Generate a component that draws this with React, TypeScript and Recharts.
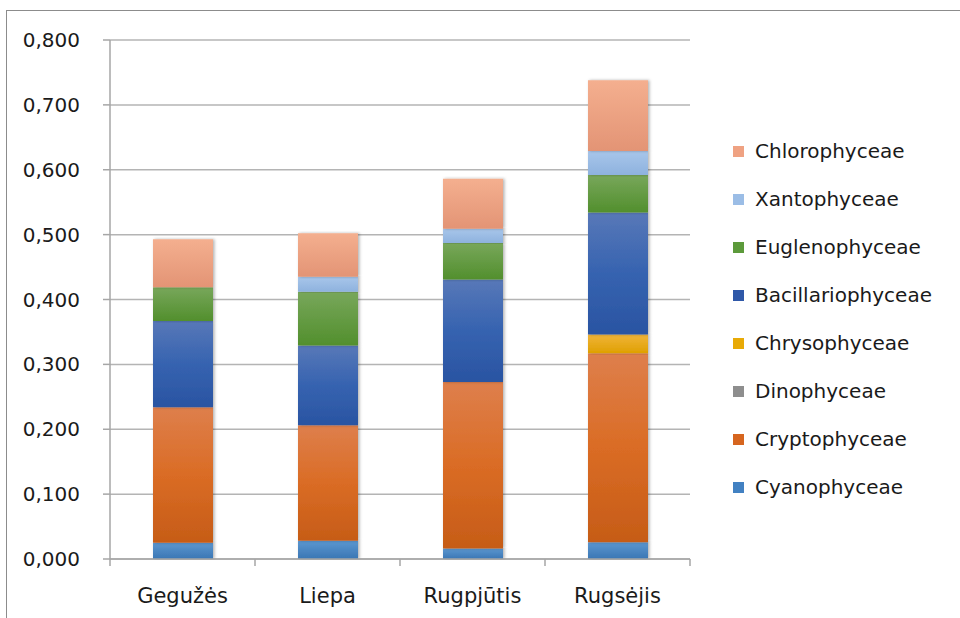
import React from 'react';
import { BarChart, Bar, XAxis, YAxis, CartesianGrid, Legend } from 'recharts';

const months = ['Gegužės', 'Liepa', 'Rugpjūtis', 'Rugsėjis'];
const cyanophyceae = [0.025, 0.028, 0.016, 0.026];
const cryptophyceae = [0.209, 0.178, 0.257, 0.291];
const dinophyceae = [0, 0, 0, 0];
const chrysophyceae = [0, 0, 0, 0.029];
const bacillariophyceae = [0.133, 0.123, 0.158, 0.188];
const euglenophyceae = [0.052, 0.083, 0.056, 0.058];
const xantophyceae = [0, 0.023, 0.022, 0.037];
const chlorophyceae = [0.074, 0.067, 0.077, 0.109];
const yTicks = [0, 0.1, 0.2, 0.3, 0.4, 0.5, 0.6, 0.7, 0.8];

const series = [
  { key: 'cyano', name: 'Cyanophyceae', values: cyanophyceae, top: '#5C97D0', bottom: '#3A76B4', swatch: '#4281C2' },
  { key: 'crypto', name: 'Cryptophyceae', values: cryptophyceae, top: '#DE7F4C', mid: '#DA6C25', bottom: '#C65C17', swatch: '#D6651F' },
  { key: 'dino', name: 'Dinophyceae', values: dinophyceae, top: '#A0A0A0', bottom: '#858585', swatch: '#8E8E8E' },
  { key: 'chryso', name: 'Chrysophyceae', values: chrysophyceae, top: '#F0B43A', bottom: '#DFA000', swatch: '#E8AA06' },
  { key: 'bacill', name: 'Bacillariophyceae', values: bacillariophyceae, top: '#5878B8', mid: '#3663B0', bottom: '#2A54A2', swatch: '#2F58A8' },
  { key: 'eugleno', name: 'Euglenophyceae', values: euglenophyceae, top: '#78A75B', bottom: '#528F2D', swatch: '#5C9A3B' },
  { key: 'xanto', name: 'Xantophyceae', values: xantophyceae, top: '#A8C6EA', bottom: '#8EB2DE', swatch: '#9BBDE6' },
  { key: 'chloro', name: 'Chlorophyceae', values: chlorophyceae, top: '#F4AF8F', bottom: '#E39475', swatch: '#EFA282' },
];

const data = months.map((m, i) => {
  const row: Record<string, string | number> = { month: m };
  series.forEach((s) => {
    row[s.key] = s.values[i];
  });
  return row;
});

const FONT = '"DejaVu Sans", sans-serif';
const AXIS_COLOR = '#a6a6a6';
const TICK_SIZE = 7;
const TICK_MARGIN = 22;

const CategoryTick = (props: any) => {
  const { x, y, payload, index, visibleTicksCount } = props;
  const half = payload && typeof payload.offset === 'number' ? payload.offset : 0;
  const y0 = y - TICK_SIZE - TICK_MARGIN;
  return (
    <g>
      <line x1={x - half} x2={x - half} y1={y0} y2={y0 + TICK_SIZE} stroke={AXIS_COLOR} strokeWidth={1.5} />
      {index === visibleTicksCount - 1 ? (
        <line x1={x + half} x2={x + half} y1={y0} y2={y0 + TICK_SIZE} stroke={AXIS_COLOR} strokeWidth={1.5} />
      ) : null}
      <text x={x} y={y} dy="0.71em" textAnchor="middle" fontFamily={FONT} fontSize={21} fill="#1a1a1a">
        {payload.value}
      </text>
    </g>
  );
};

const LegendContent = () => (
  <div style={{ fontFamily: FONT, fontSize: 20, color: '#1a1a1a' }}>
    {[...series].reverse().map((s) => (
      <div key={s.key} style={{ display: 'flex', alignItems: 'center', height: 48 }}>
        <div style={{ width: 11, height: 11, background: s.swatch, marginRight: 11 }} />
        <span>{s.name}</span>
      </div>
    ))}
  </div>
);

export default function App() {
  return (
    <div style={{ position: 'absolute', left: 0, top: 0, width: 960, height: 618, background: '#fff', overflow: 'hidden' }}>
      <div
        style={{
          position: 'absolute',
          left: 6,
          top: 10,
          width: 1000,
          height: 700,
          borderTop: '1.5px solid #8c8c8c',
          borderLeft: '1.5px solid #8c8c8c',
        }}
      />
      <div style={{ position: 'absolute', left: 0, top: 0 }}>
        <BarChart width={960} height={618} data={data} margin={{ top: 40, right: 45, bottom: 0, left: 0 }}>
          <defs>
            {series.map((s) => (
              <linearGradient key={s.key} id={`grad-${s.key}`} x1="0" y1="0" x2="0" y2="1">
                <stop offset="0%" stopColor={s.top} />
                {s.mid ? <stop offset="50%" stopColor={s.mid} /> : null}
                <stop offset="100%" stopColor={s.bottom} />
              </linearGradient>
            ))}
            <filter id="barShadow" x="-20%" y="-5%" width="140%" height="110%">
              <feDropShadow dx="1.5" dy="0" stdDeviation="1.8" floodColor="#000" floodOpacity="0.3" />
            </filter>
          </defs>
          <CartesianGrid horizontal vertical={false} stroke="#b4b4b4" strokeWidth={1.5} />
          <XAxis
            dataKey="month"
            height={59}
            tickLine={false}
            tickSize={TICK_SIZE}
            tickMargin={TICK_MARGIN}
            interval={0}
            axisLine={{ stroke: AXIS_COLOR, strokeWidth: 1.5 }}
            tick={<CategoryTick />}
          />
          <YAxis
            width={110}
            domain={[0, 0.8]}
            ticks={yTicks}
            tickSize={7}
            tickMargin={23}
            interval={0}
            tickFormatter={(v: number) => v.toFixed(3).replace('.', ',')}
            axisLine={{ stroke: AXIS_COLOR, strokeWidth: 1.5 }}
            tickLine={{ stroke: AXIS_COLOR, strokeWidth: 1.5 }}
            tick={{ fontFamily: FONT, fontSize: 20, fill: '#1a1a1a' }}
          />
          <Legend
            content={<LegendContent />}
            layout="vertical"
            align="right"
            verticalAlign="top"
            width={225}
            wrapperStyle={{ position: 'absolute', left: 733, top: 127, width: 225 }}
          />
          {series.map((s) => (
            <Bar
              key={s.key}
              dataKey={s.key}
              name={s.name}
              stackId="a"
              barSize={60}
              fill={`url(#grad-${s.key})`}
              filter="url(#barShadow)"
              isAnimationActive={false}
            />
          ))}
        </BarChart>
      </div>
    </div>
  );
}
